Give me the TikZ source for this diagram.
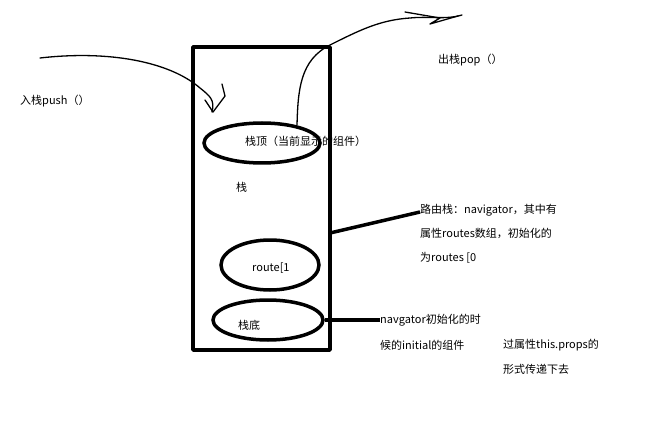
\documentclass[tikz,border=0pt]{standalone}
\usepackage{fontspec}
\setmainfont{Noto Sans CJK SC}
\usetikzlibrary{shapes.geometric}
\tikzset{
  paint/.style={line width=3.5pt, line join=round},
  pen/.style={line width=1.3pt, line cap=round, line join=round},
  lbl/.style={anchor=west, inner sep=0pt, font=\fontsize{11pt}{13pt}\selectfont},
  ring/.style={ellipse, draw, line width=3.5pt, inner sep=0pt}
}
\begin{document}
\begin{tikzpicture}[x=1pt, y=-1pt]
    \useasboundingbox (0,0) rectangle (666,422);

    % stack box
    \draw[paint] (193,47) rectangle (330,350);
    \coordinate (boxR) at (330,233);

    % ellipses
    \node[ring, minimum width=116pt, minimum height=40pt] (top) at (262,143) {};
    \node[ring, minimum width=98pt, minimum height=50pt] (mid) at (270,265) {};
    \node[ring, minimum width=110pt, minimum height=40pt] (bot) at (268,320) {};

    % labels inside
    \node[lbl] (topTxt) at (245,141) {栈顶（当前显示的组件）};
    \node[lbl] (stackTxt) at (236,187) {栈};
    \node[lbl] (routeTxt) at (252,268) {route[1};
    \node[lbl] (botTxt) at (238,325) {栈底};

    % notes on the right
    \node[lbl, align=left, font=\fontsize{11pt}{24pt}\selectfont] (navTxt) at (420,234)
        {路由栈：navigator，其中有\\属性routes数组，初始化的\\为routes [0};
    \node[lbl] (initA) at (380,320) {navgator初始化的时};
    \node[lbl] (initB) at (380,345) {候的initial的组件};
    \node[lbl] (propA) at (503,345) {过属性this.props的};
    \node[lbl] (propB) at (503,369) {形式传递下去};
    \draw[paint] (boxR) -- (navTxt.west |- 0,212);
    \draw[paint] (bot.east) -- (initA.west);

    % push / pop
    \node[lbl] (pushTxt) at (20,101) {入栈push（）};
    \node[lbl] (popTxt) at (438,60) {出栈pop（）};
    \draw[pen] (40,58) .. controls (110,50) and (170,62) .. (200,88)
        .. controls (210,96) and (215,100) .. (212,112);
    \draw[pen] (205,100) -- (213,112) -- (225,96) -- (222,84);
    \draw[pen] (297,125) .. controls (298,90) and (300,60) .. (330,45)
        .. controls (360,30) and (380,20) .. (410,18)
        .. controls (430,16) and (445,20) .. (462,15);
    \draw[pen] (405,12) -- (440,18) -- (430,24) -- (458,16);
\end{tikzpicture}
\end{document}
